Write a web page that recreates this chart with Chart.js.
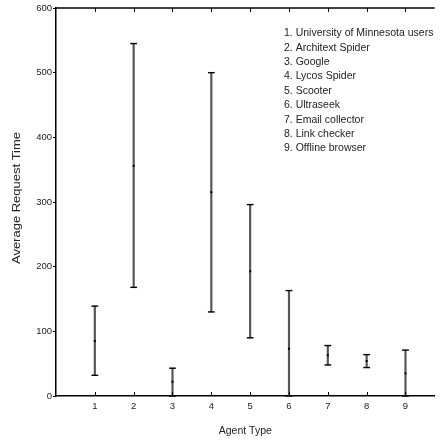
<!DOCTYPE html>
<html>
<head>
<meta charset="utf-8">
<script src="https://cdn.jsdelivr.net/npm/chart.js@4.4.1/dist/chart.umd.min.js"></script>
<style>
  body { margin: 0; background: #fff; }
  canvas { display: block; }
</style>
</head>
<body>
<canvas id="myChart" width="440" height="442"></canvas>
<script>
// values
const agents = [1, 2, 3, 4, 5, 6, 7, 8, 9];
const means = [85, 356, 22, 315, 193, 73, 63, 54, 35];
const upper = [139, 545, 43, 500, 296, 163, 78, 64, 71];
const lower = [32, 168, 0, 130, 90, 0, 48, 44, 0];
const yTicks = [0, 100, 200, 300, 400, 500, 600];
const agentNames = ['University of Minnesota users', 'Architext Spider', 'Google', 'Lycos Spider',
    'Scooter', 'Ultraseek', 'Email collector', 'Link checker', 'Offline browser'];

const FONT = 'Arial, "Liberation Sans", Helvetica, sans-serif';
Chart.defaults.font.family = FONT;
Chart.defaults.color = '#222';

function pts(vals) {
    return agents.map((a, i) => ({x: a, y: vals[i]}));
}

// frame, inward x ticks, titles and the name list
const decor = {
    id: 'decor',
    afterDraw(chart) {
        const ctx = chart.ctx;
        const a = chart.chartArea;
        const xs = chart.scales.x;
        ctx.save();
        ctx.strokeStyle = '#000';
        ctx.lineWidth = 1.5;
        ctx.beginPath();
        ctx.moveTo(a.left, a.top);
        ctx.lineTo(a.right, a.top);
        ctx.stroke();
        ctx.lineWidth = 1;
        for (let v of agents) {
            let px = Math.round(xs.getPixelForValue(v)) + 0.5;
            ctx.beginPath();
            ctx.moveTo(px, a.bottom);
            ctx.lineTo(px, a.bottom - 4);
            ctx.moveTo(px, a.top);
            ctx.lineTo(px, a.top + 4);
            ctx.stroke();
        }
        ctx.fillStyle = '#222';
        ctx.font = '10.5px ' + FONT;
        ctx.textAlign = 'center';
        ctx.textBaseline = 'middle';
        ctx.fillText('Agent Type', (a.left + a.right) / 2, 431);
        ctx.save();
        ctx.translate(17, 198);
        ctx.rotate(-Math.PI / 2);
        ctx.scale(1.18, 1);
        ctx.font = '11px ' + FONT;
        ctx.fillText('Average Request Time', 0, 0);
        ctx.restore();
        ctx.textAlign = 'left';
        ctx.font = '10.5px ' + FONT;
        agentNames.forEach((name, i) => {
            ctx.fillText((i + 1) + '. ' + name, 284, 33.3 + 14.4 * i);
        });
        ctx.restore();
    }
};

const ctx = document.getElementById('myChart').getContext('2d');
const myChart = new Chart(ctx, {
    type: 'scatter',
    data: {
        datasets: [
            {
                data: pts(means),
                pointStyle: 'rect',
                radius: 1.4,
                backgroundColor: '#000',
                borderColor: '#000',
                borderWidth: 0,
                order: 0
            },
            {
                data: pts(upper),
                pointStyle: 'line',
                radius: 3.4,
                borderColor: '#000',
                borderWidth: 1.4,
                clip: false,
                order: 1
            },
            {
                data: pts(lower),
                pointStyle: 'line',
                radius: 3.4,
                borderColor: '#000',
                borderWidth: 1.4,
                clip: false,
                order: 2
            },
            {
                type: 'bar',
                data: agents.map((a, i) => ({x: a, y: [lower[i], upper[i]]})),
                backgroundColor: '#555',
                borderWidth: 0,
                barThickness: 1.5,
                grouped: false,
                clip: false,
                order: 3
            }
        ]
    },
    options: {
        responsive: false,
        animation: false,
        devicePixelRatio: 1,
        layout: {padding: {top: 8, left: 0, right: 0, bottom: 0}},
        plugins: {legend: {display: false}, tooltip: {enabled: false}},
        scales: {
            x: {
                type: 'linear',
                min: 0,
                max: 9.75,
                offset: false,
                afterBuildTicks: s => { s.ticks = agents.map(v => ({value: v})); },
                afterFit: s => { s.height = 46; },
                grid: {drawOnChartArea: false, drawTicks: false},
                border: {color: '#000', width: 1.5},
                ticks: {font: {size: 9.5}, padding: 5, maxRotation: 0}
            },
            y: {
                min: 0,
                max: 600,
                afterBuildTicks: s => { s.ticks = yTicks.map(v => ({value: v})); },
                afterFit: s => { s.width = 56; },
                grid: {drawOnChartArea: false, tickLength: 3, color: '#000'},
                border: {color: '#000', width: 1.5},
                ticks: {font: {size: 9.5}, padding: 1}
            }
        }
    },
    plugins: [decor]
});
</script>
</body>
</html>
